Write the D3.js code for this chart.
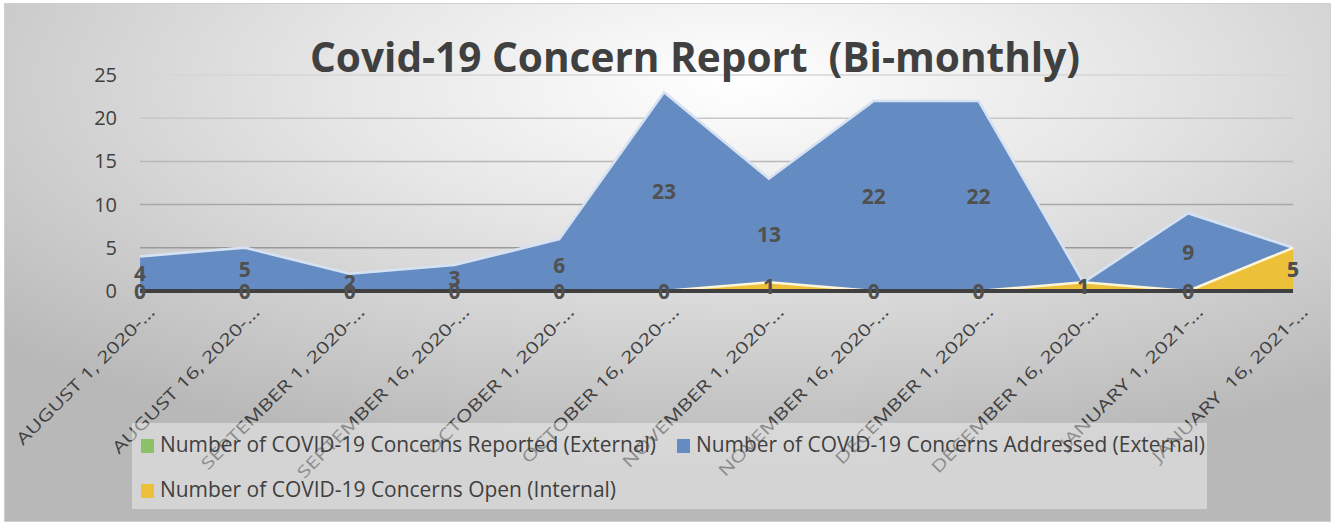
<!DOCTYPE html>
<html>
<head>
<meta charset="utf-8">
<title>Covid-19 Concern Report</title>
<script src="https://d3js.org/d3.v7.min.js"></script>
<style>
  body { margin: 0; background: #fff; }
  text { font-family: "Open Sans", "Noto Sans", sans-serif; fill: #404040; }
  .xlab { white-space: pre; }
</style>
</head>
<body>
<div id="chart"></div>
<script>
// data
const categories = [
  "AUGUST 1, 2020-\u2026", "AUGUST 16, 2020-\u2026", "SEPTEMBER 1, 2020-\u2026",
  "SEPTEMBER 16, 2020-\u2026", "OCTOBER 1, 2020-\u2026", "OCTOBER 16, 2020-\u2026",
  "NOVEMBER 1, 2020-\u2026", "NOVEMBER 16, 2020-\u2026", "DECEMBER 1, 2020-\u2026",
  "DECEMBER 16, 2020-\u2026", "JANUARY 1, 2021-\u2026", "JANUARY  16, 2021-\u2026"
];
const reported = [4, 5, 2, 3, 6, 23, 13, 22, 22, 1, 9, 5];   // hidden behind "addressed"
const addressed = [4, 5, 2, 3, 6, 23, 13, 22, 22, 1, 9, 5];
const open = [0, 0, 0, 0, 0, 0, 1, 0, 0, 1, 0, 5];
const yTicks = [0, 5, 10, 15, 20, 25];
const seriesNames = [
  "Number of COVID-19 Concerns Reported (External)",
  "Number of COVID-19 Concerns Addressed (External)",
  "Number of COVID-19 Concerns Open (Internal)"
];
const colors = ["#8cc168", "#658cc2", "#edc03a"];

const W = 1335, H = 525;
const svg = d3.select("#chart").append("svg")
  .attr("width", W).attr("height", H);

// background gradient
const defs = svg.append("defs");
const bg = defs.append("radialGradient").attr("id", "bg")
  .attr("cx", 0.55).attr("cy", 0.15).attr("r", 0.75);
bg.append("stop").attr("offset", 0).attr("stop-color", "#ffffff");
bg.append("stop").attr("offset", 0.4).attr("stop-color", "#e6e6e6");
bg.append("stop").attr("offset", 1).attr("stop-color", "#b8b8b8");

svg.append("rect").attr("x", 4.5).attr("y", 3.5).attr("width", 1326).attr("height", 518)
  .attr("fill", "url(#bg)").attr("stroke", "#d0d0d0");

const x = d3.scalePoint().domain(categories).range([140, 1293]);
const y = d3.scaleLinear().domain([0, 25]).range([291, 75]);

// gridlines
const gridColor = d3.scaleLinear().domain([0, 25]).range(["#8a8a8a", "#d6d6d6"]);
svg.append("g").selectAll("line").data(yTicks.filter(d => d > 0)).join("line")
  .attr("x1", 140).attr("x2", 1293)
  .attr("y1", d => y(d)).attr("y2", d => y(d))
  .attr("stroke", d => gridColor(d)).attr("stroke-width", 1.5);

// y axis labels
const yAxis = svg.append("g").attr("transform", "translate(130,0)")
  .call(d3.axisLeft(y).tickValues(yTicks).tickSize(0).tickPadding(13));
yAxis.select(".domain").remove();
yAxis.selectAll("text").attr("font-size", 20).attr("fill", "#404040")
  .attr("font-family", "'Open Sans', sans-serif");

// x labels (rotated)
const xl = svg.append("g").selectAll("text").data(categories).join("text")
  .attr("class", "xlab")
  .attr("transform", d => `translate(${x(d) + 16},313) rotate(-45)`)
  .attr("text-anchor", "end")
  .attr("font-size", 16.5)
  .text(d => d);
const firstLen = xl.node().getComputedTextLength();
const k = 188 / firstLen;
xl.each(function () {
  const len = this.getComputedTextLength();
  d3.select(this).attr("textLength", len * k).attr("lengthAdjust", "spacingAndGlyphs");
});

// areas
const area = d3.area()
  .x((d, i) => x(categories[i]))
  .y0(y(0)).y1(d => y(d));
const line = d3.line()
  .x((d, i) => x(categories[i])).y(d => y(d));

[reported, addressed, open].forEach((s, i) => {
  svg.append("path").datum(s).attr("d", area).attr("fill", colors[i]);
  svg.append("path").datum(s).attr("d", line).attr("fill", "none")
    .attr("stroke", i === 2 ? "#fff6d8" : "#d6e2f1").attr("stroke-width", 2.5);
});

// baseline
svg.append("line").attr("x1", 140).attr("x2", 1293)
  .attr("y1", y(0)).attr("y2", y(0))
  .attr("stroke", "#404040").attr("stroke-width", 4);

// data labels (mid-height of each series)
[addressed, open].forEach(s => {
  svg.append("g").selectAll("text").data(s).join("text")
    .attr("x", (d, i) => x(categories[i]))
    .attr("y", d => y(d / 2))
    .attr("dy", "0.36em")
    .attr("text-anchor", "middle")
    .attr("font-size", 21).attr("font-weight", "bold")
    .style("fill", "#505050")
    .text(d => d);
});

// title
svg.append("text").attr("x", 695).attr("y", 72)
  .attr("text-anchor", "middle")
  .attr("font-size", 42).attr("font-weight", "bold")
  .attr("textLength", 770).attr("lengthAdjust", "spacingAndGlyphs")
  .style("white-space", "pre")
  .text("Covid-19 Concern Report  (Bi-monthly)");

// legend
svg.append("rect").attr("x", 132).attr("y", 423).attr("width", 1075).attr("height", 86)
  .attr("fill", "#ffffff").attr("fill-opacity", 0.4);
const legendItems = [
  { sx: 141, ty: 452, tx: 160, len: 496 },
  { sx: 677, ty: 452, tx: 696, len: 509 },
  { sx: 141, ty: 497, tx: 160, len: 456 }
];
legendItems.forEach((p, i) => {
  svg.append("rect").attr("x", p.sx).attr("y", p.ty - 13).attr("width", 13).attr("height", 14)
    .attr("fill", colors[i]);
  svg.append("text").attr("x", p.tx).attr("y", p.ty)
    .attr("font-size", 21)
    .attr("textLength", p.len).attr("lengthAdjust", "spacingAndGlyphs")
    .text(seriesNames[i]);
});
</script>
</body>
</html>
